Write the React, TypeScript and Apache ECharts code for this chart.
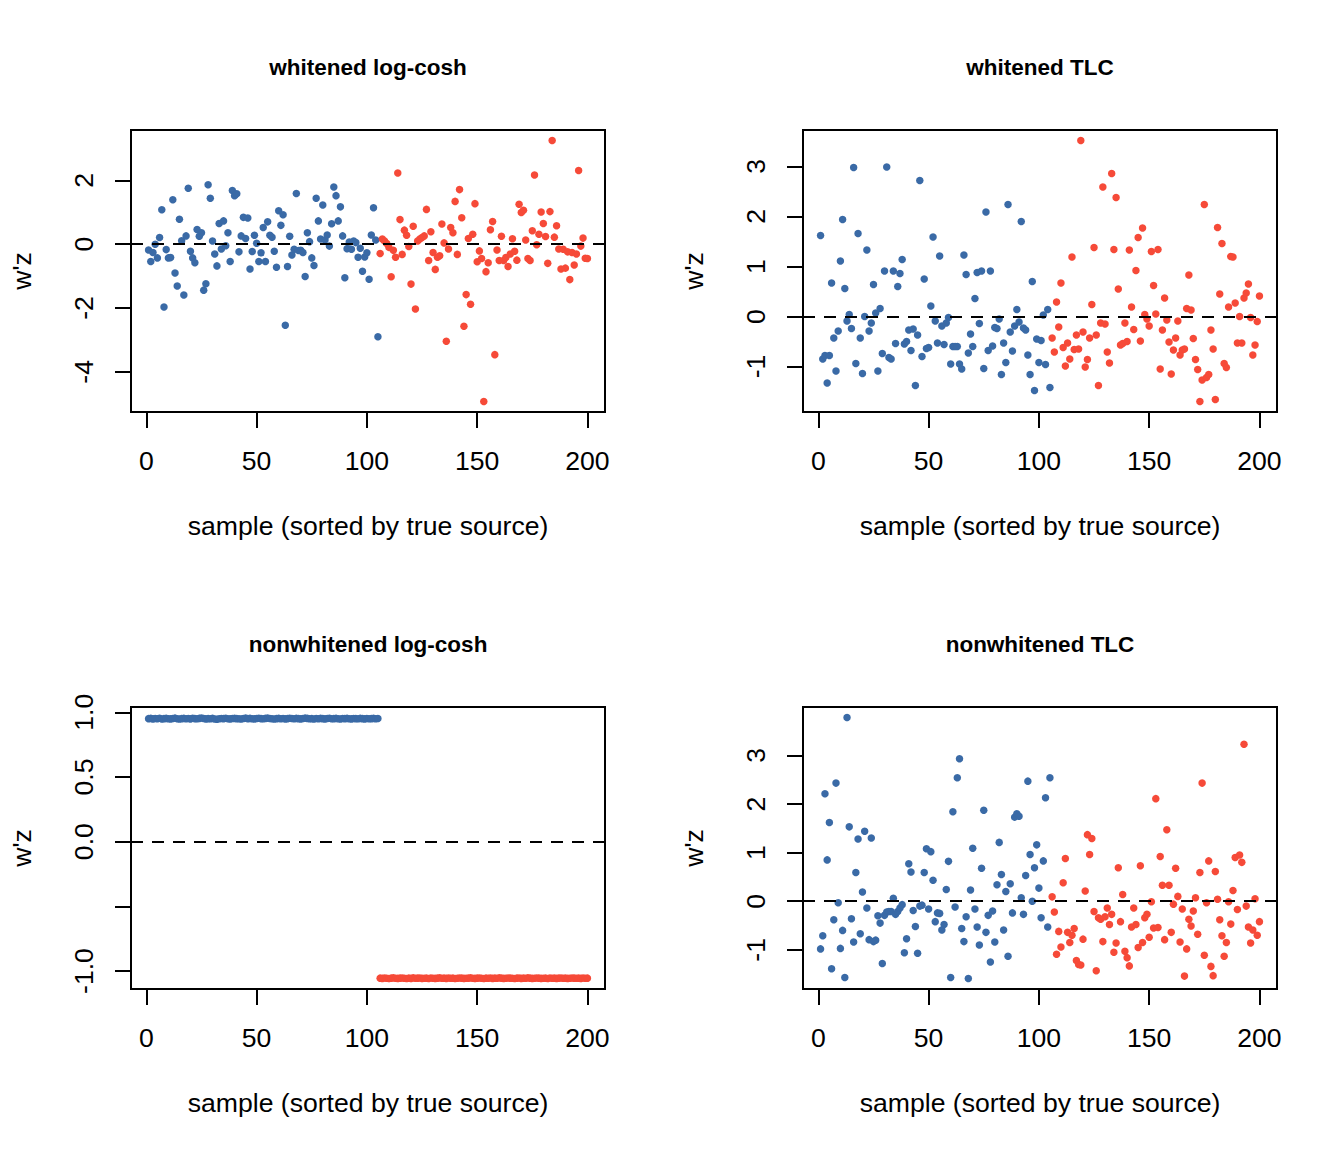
import React, { useEffect, useRef } from 'react'
import * as echarts from 'echarts'

// 数据：每个面板前 105 个样本为蓝色（源 1），后 95 个为红色（源 2）
const xTicks = [0, 50, 100, 150, 200]

const wlcBlue = [
  -0.18, -0.54, -0.26, 0.0, -0.43, 0.21, 1.08, -1.97, -0.17, -0.43,
  -0.42, 1.39, -0.9, -1.31, 0.78, 0.11, -1.59, 0.26, 1.75, -0.22,
  -0.43, -0.58, 0.46, 0.25, 0.36, -1.44, -1.24, 1.86, 1.44, 0.1,
  -0.31, -0.68, 0.65, -0.15, 0.73, -0.05, 0.36, -0.54, 1.68, 1.52,
  1.58, -0.24, 0.26, 0.84, 0.18, 0.82, -0.78, -0.23, 0.28, 0.03,
  -0.54, -0.27, 0.52, -0.54, 0.7, 0.28, 0.22, -0.22, -0.72, 1.05,
  0.59, 0.92, -2.54, -0.7, 0.25, -0.34, -0.16, 1.59, -0.2, -0.19,
  -0.26, -1.01, 0.36, 0.08, -0.43, -0.67, 1.44, 0.73, 0.16, 1.23,
  0.13, 0.29, -0.06, 0.64, 1.79, 1.52, 0.73, 1.17, 0.26, -1.05,
  -0.14, 0.07, -0.16, 0.1, 0.05, -0.41, -0.13, -0.85, -0.4, -0.27,
  -1.1, 0.29, 1.14, 0.13, -2.9,
]
const wlcRed = [
  -0.29, 0.16, 0.1, 0.02, -0.1, -1.02, -0.19, -0.41, 2.23, 0.77,
  -0.32, 0.44, 0.28, -0.07, -1.25, 0.56, -2.03, 0.1, 0.16, 0.21,
  0.26, 1.09, -0.51, 0.39, -0.26, -0.79, -0.41, -0.36, 0.63, 0.04,
  -3.04, -0.15, 0.52, 0.36, 1.34, -0.32, 1.71, 0.83, -2.57, -1.58,
  0.18, -1.88, 0.31, 1.27, -0.55, -0.21, -0.45, -4.93, -0.86, -0.58,
  0.45, 0.71, -3.46, -0.18, -0.51, 0.25, -0.51, -0.42, -0.7, -0.31,
  0.17, -0.22, -0.5, 1.25, 0.99, 1.06, 0.13, -0.45, -0.51, 0.42,
  2.17, -0.02, 0.31, 1.01, 0.65, 0.24, -0.6, 1.02, 3.25, 0.22,
  0.58, -0.15, -0.78, -0.16, -0.75, -0.24, -1.11, -0.26, -0.65, -0.31,
  2.31, -0.06, 0.19, -0.44, -0.45,
]

const wtlcBlue = [
  1.62, -0.85, -0.78, -1.33, -0.78, 0.67, -0.43, -1.09, -0.29, 1.11,
  1.94, 0.56, -0.09, 0.04, -0.24, 2.98, -0.94, 1.66, -0.43, -1.14,
  0.0, 1.33, -0.29, -0.13, 0.64, 0.07, -1.09, 0.16, -0.74, 0.91,
  2.99, -0.82, -0.85, 0.91, -0.54, 0.6, 0.86, 1.14, -0.55, -0.5,
  -0.27, -0.68, -0.25, -1.38, -0.37, 2.72, -0.8, 0.75, -0.64, -0.62,
  0.21, 1.59, -0.09, -0.53, 1.21, -0.19, -0.56, -0.13, -0.02, -0.95,
  -0.6, -0.6, -0.6, -0.95, -1.05, 1.23, 0.84, -0.73, -0.35, -0.6,
  0.36, 0.88, -0.14, 0.91, -1.04, 2.09, -0.68, 0.91, -0.59, -0.22,
  -0.24, -0.05, -1.16, -0.53, -0.92, 2.24, -0.31, -0.69, -0.19, 0.14,
  -0.11, 1.9, -0.23, -0.27, -0.77, -1.16, 0.7, -1.48, -0.45, -0.92,
  -0.48, 0.03, -0.96, 0.14, -1.42,
]
const wtlcRed = [
  -0.43, -0.71, 0.29, -0.21, 0.67, -0.62, -0.99, -0.53, -0.85, 1.19,
  -0.66, -0.37, -0.65, 3.52, -0.31, -1.01, -0.86, -0.43, 0.24, 1.38,
  -0.37, -1.38, -0.13, 2.59, -0.15, -0.71, -0.93, 2.86, 1.34, 2.38,
  0.55, -0.57, -0.54, -0.13, -0.5, 1.33, 0.19, -0.26, 0.92, 1.58,
  -0.49, 1.77, 0.04, -0.05, -0.19, 1.3, 0.62, 0.05, 1.34, -1.05,
  -0.27, 0.37, -0.07, -0.51, -1.15, -0.67, -0.43, -0.09, -0.77, -0.67,
  -0.65, 0.16, 0.83, 0.13, -0.44, -0.86, -1.06, -1.7, -1.27, 2.24,
  -1.22, -1.16, -0.27, -0.65, -1.66, 1.78, 0.45, 1.46, -0.94, -1.02,
  0.19, 1.2, 1.19, 0.27, -0.53, 0.0, -0.53, 0.37, 0.47, 0.65,
  -0.02, -0.77, -0.57, -0.1, 0.41,
]

const nlcBlue = [
  0.951, 0.953, 0.949, 0.952, 0.95, 0.954, 0.948, 0.951, 0.953, 0.95,
  0.949, 0.952, 0.955, 0.95, 0.948, 0.951, 0.953, 0.95, 0.952, 0.949,
  0.954, 0.951, 0.95, 0.953, 0.956, 0.952, 0.949, 0.951, 0.95, 0.953,
  0.948, 0.946, 0.95, 0.952, 0.951, 0.954, 0.95, 0.949, 0.952, 0.953,
  0.951, 0.95, 0.948, 0.952, 0.955, 0.951, 0.953, 0.95, 0.949, 0.952,
  0.954, 0.951, 0.95, 0.953, 0.955, 0.952, 0.95, 0.948, 0.951, 0.953,
  0.95, 0.952, 0.949, 0.951, 0.954, 0.952, 0.95, 0.953, 0.951, 0.949,
  0.952, 0.955, 0.953, 0.95, 0.951, 0.948, 0.952, 0.95, 0.953, 0.951,
  0.949, 0.952, 0.954, 0.95, 0.951, 0.953, 0.95, 0.948, 0.952, 0.951,
  0.953, 0.95, 0.949, 0.952, 0.951, 0.95, 0.953, 0.951, 0.949, 0.952,
  0.95, 0.951, 0.953, 0.95, 0.952,
]
const nlcRed = [
  -1.055, -1.057, -1.054, -1.056, -1.058, -1.055, -1.053, -1.056, -1.057, -1.055,
  -1.054, -1.056, -1.058, -1.055, -1.057, -1.053, -1.056, -1.055, -1.054, -1.057,
  -1.056, -1.055, -1.058, -1.054, -1.056, -1.057, -1.055, -1.053, -1.056, -1.055,
  -1.057, -1.054, -1.056, -1.055, -1.058, -1.056, -1.054, -1.055, -1.057, -1.056,
  -1.055, -1.053, -1.056, -1.057, -1.055, -1.054, -1.056, -1.058, -1.055, -1.056,
  -1.054, -1.057, -1.055, -1.056, -1.053, -1.055, -1.057, -1.056, -1.054, -1.055,
  -1.056, -1.058, -1.055, -1.054, -1.057, -1.055, -1.056, -1.053, -1.055, -1.057,
  -1.056, -1.054, -1.055, -1.057, -1.056, -1.055, -1.058, -1.054, -1.056, -1.055,
  -1.057, -1.055, -1.054, -1.056, -1.055, -1.057, -1.056, -1.054, -1.055, -1.056,
  -1.055, -1.057, -1.054, -1.056, -1.055,
]

const ntlcBlue = [
  -0.98, -0.71, 2.21, 0.85, 1.62, -1.39, -0.38, 2.43, -0.03, -0.97,
  -0.6, -1.57, 3.78, 1.53, -0.36, -0.84, 0.59, 1.28, -0.67, 0.19,
  1.44, -0.14, -0.79, 1.3, -0.83, -0.8, -0.3, -0.45, -1.28, -0.29,
  -0.22, -0.21, -0.21, 0.06, -0.27, -0.21, -0.14, -0.07, -1.06, -0.77,
  0.77, 0.6, -0.19, -0.52, -1.07, -0.1, -0.08, 0.59, 1.08, -0.16,
  1.02, 0.43, -0.42, -0.24, -0.25, -0.59, -0.48, 0.24, 0.82, -1.57,
  1.84, -0.12, 2.54, 2.93, -0.56, -0.83, -0.32, -1.59, 0.23, 1.09,
  -0.16, -0.53, -0.9, 0.68, 1.87, -0.64, -0.29, -1.25, -0.2, -0.84,
  0.34, 1.21, 0.55, -0.59, 0.2, -1.13, 0.36, -0.24, 1.73, 1.8,
  1.75, 0.07, -0.27, 0.53, 2.47, 0.96, 0.0, 0.69, 1.16, 0.27,
  -0.34, 0.83, 2.13, -0.53, 2.54,
]
const ntlcRed = [
  0.09, -0.22, -1.09, -0.62, -0.94, 0.38, 0.88, -0.64, -0.85, -0.7,
  -0.56, -1.22, -1.3, -1.31, -0.78, 0.21, 1.37, 0.96, 1.29, -0.21,
  -1.43, -0.34, -0.37, -0.83, -0.32, -0.14, -0.48, -0.27, -1.05, -0.86,
  0.69, -0.42, 0.14, -1.03, -1.16, -1.33, -0.53, -0.14, -0.48, -0.95,
  0.73, -0.85, -0.34, -0.27, -0.74, -0.01, -0.55, 2.11, -0.54, 0.92,
  0.33, -0.79, 1.47, 0.33, -0.64, -0.06, 0.68, 0.1, -0.84, -0.16,
  -1.54, -0.98, -0.37, -0.51, -0.2, 0.07, -0.68, 0.59, 2.43, -1.11,
  -0.03, 0.83, -1.34, -1.53, 0.61, 0.04, -0.38, -0.71, -1.13, -0.85,
  -0.01, -0.47, 0.22, 0.9, -0.17, 0.95, 0.8, 3.23, -0.1, -0.53,
  -0.86, -0.59, 0.05, -0.7, -0.42,
]

const titles = ['whitened log-cosh', 'whitened TLC', 'nonwhitened log-cosh', 'nonwhitened TLC']
const blues = [wlcBlue, wtlcBlue, nlcBlue, ntlcBlue]
const reds = [wlcRed, wtlcRed, nlcRed, ntlcRed]
const yRanges = [[-5.257, 3.577], [-1.909, 3.729], [-1.139, 1.041], [-1.805, 3.995]]
const yTicks = [[-4, -2, 0, 2], [-1, 0, 1, 2, 3], [-1, -0.5, 0, 0.5, 1], [-1, 0, 1, 2, 3]]
// -0.5 的标签在原图中被省略（与相邻标签重叠）
const yTickLabels = [[-4, -2, 0, 2], [-1, 0, 1, 2, 3], [-1, 0, 0.5, 1], [-1, 0, 1, 2, 3]]

const BLUE = '#3a6aa6'
const RED = '#f64a38'
const FONT = 'Liberation Sans, Arial, Helvetica, sans-serif'
const FS = 26.6

// 面板位置（像素）
const layout = [
  { left: 131, top: 130 },
  { left: 803, top: 130 },
  { left: 131, top: 707 },
  { left: 803, top: 707 },
]
const W = 474
const H = 282

export default function App() {
  const chartRef = useRef<HTMLDivElement>(null)

  useEffect(() => {
    if (!chartRef.current) return
    const chart = echarts.init(chartRef.current, null, { renderer: 'svg' })

    const tickStyle = { color: '#000', width: 2 }

    const option = {
      animation: false,
      backgroundColor: '#fff',
      graphic: titles.map((t, i) => ({
        type: 'text',
        x: layout[i].left + W / 2,
        y: layout[i].top - 63,
        style: {
          text: t,
          fill: '#000',
          font: `bold 22.5px ${FONT}`,
          textAlign: 'center',
          textVerticalAlign: 'middle',
        },
      })),
      grid: layout.map(p => ({
        left: p.left,
        top: p.top,
        width: W,
        height: H,
        show: true,
        borderColor: '#000',
        borderWidth: 2,
        backgroundColor: 'transparent',
      })),
      xAxis: layout.map((_, i) => ({
        type: 'value',
        gridIndex: i,
        min: -6.96,
        max: 207.96,
        splitLine: { show: false },
        axisLine: { show: false, onZero: false },
        axisTick: { show: true, length: 16, customValues: xTicks, lineStyle: tickStyle },
        axisLabel: { customValues: xTicks, margin: 35, fontSize: FS, color: '#000', fontFamily: FONT },
        name: 'sample (sorted by true source)',
        nameLocation: 'middle',
        nameGap: 100,
        nameTextStyle: { fontSize: FS, color: '#000', fontFamily: FONT },
      })),
      yAxis: layout.map((_, i) => ({
        type: 'value',
        gridIndex: i,
        min: yRanges[i][0],
        max: yRanges[i][1],
        splitLine: { show: false },
        axisLine: { show: false, onZero: false },
        axisTick: { show: true, length: 16, customValues: yTicks[i], lineStyle: tickStyle },
        axisLabel: {
          customValues: yTickLabels[i],
          rotate: 90,
          margin: 34,
          fontSize: FS,
          color: '#000',
          fontFamily: FONT,
          formatter: (v: number) => (i === 2 ? v.toFixed(1) : String(v)),
        },
        name: "w'z",
        nameLocation: 'middle',
        nameGap: 96,
        nameTextStyle: { fontSize: FS, color: '#000', fontFamily: FONT },
      })),
      series: layout.flatMap((_, i) => [
        {
          type: 'scatter',
          xAxisIndex: i,
          yAxisIndex: i,
          symbolSize: 7.5,
          itemStyle: { color: BLUE, opacity: 1 },
          data: blues[i].map((v, k) => [k + 1, v]),
        },
        {
          type: 'scatter',
          xAxisIndex: i,
          yAxisIndex: i,
          symbolSize: 7.5,
          itemStyle: { color: RED, opacity: 1 },
          data: reds[i].map((v, k) => [blues[i].length + k + 1, v]),
          markLine: {
            silent: true,
            symbol: ['none', 'none'],
            label: { show: false },
            lineStyle: { type: [12, 9], color: '#000', width: 2 },
            data: [{ yAxis: 0 }],
          },
        },
      ]),
    }

    chart.setOption(option)
    return () => chart.dispose()
  }, [])

  return (
    <div
      ref={chartRef}
      style={{ position: 'absolute', left: 0, top: 0, width: 1344, height: 1152, background: '#fff' }}
    />
  )
}
